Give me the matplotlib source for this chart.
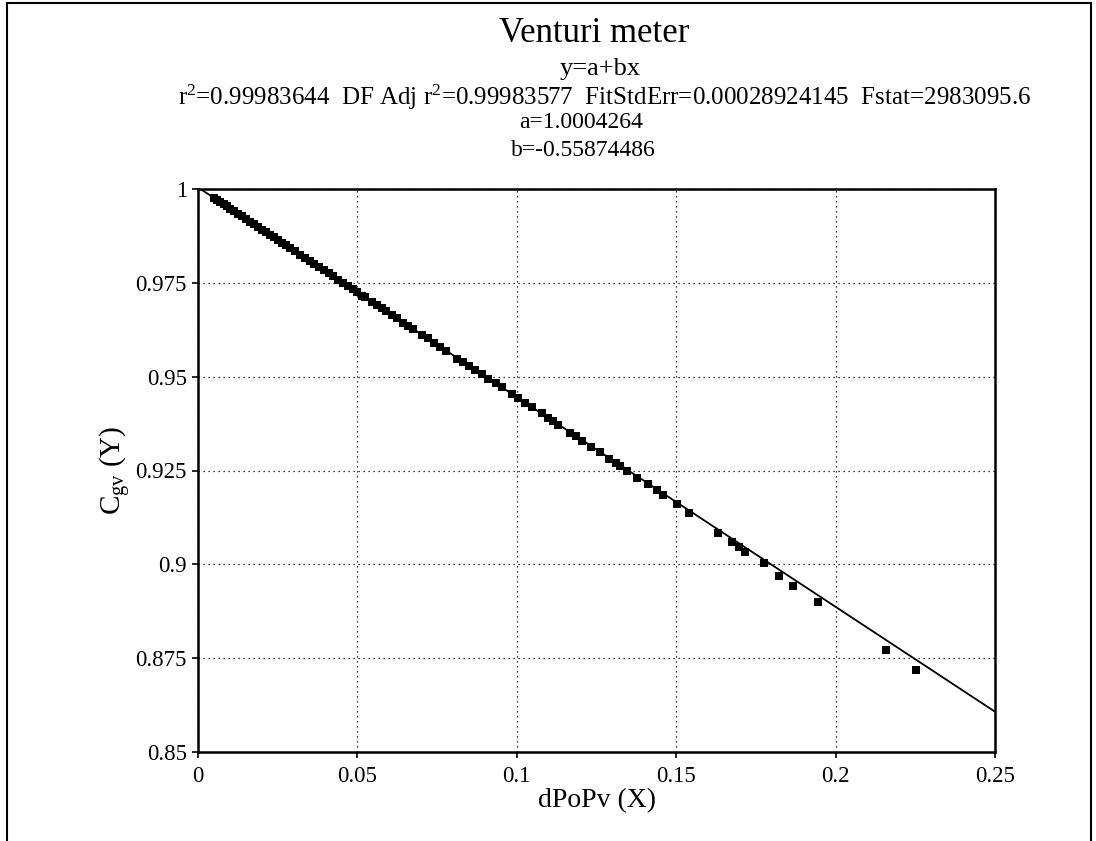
"""Venturi meter calibration fit, TableCurve style"""
import matplotlib
matplotlib.use('Agg')
import matplotlib.pyplot as plt
from matplotlib.patches import Rectangle

plt.rcParams['font.family'] = ['Liberation Serif', 'DejaVu Serif']
plt.rcParams['mathtext.fontset'] = 'custom'
plt.rcParams['mathtext.rm'] = 'Liberation Serif'
plt.rcParams['mathtext.it'] = 'Liberation Serif:italic'

dpopv = [0.0050, 0.0060, 0.0070, 0.0080, 0.0090, 0.0100, 0.0112, 0.0125, 0.0138, 0.0150,
         0.0163, 0.0175, 0.0188, 0.0200, 0.0213, 0.0225, 0.0238, 0.0250, 0.0263, 0.0275,
         0.0290, 0.0305, 0.0320, 0.0335, 0.0350, 0.0365, 0.0380, 0.0395, 0.0410, 0.0425,
         0.0440, 0.0455, 0.0470, 0.0485, 0.0500, 0.0515,
         0.0524, 0.0545, 0.0560, 0.0576, 0.0590, 0.0608, 0.0625, 0.0644, 0.0660, 0.0675,
         0.0702, 0.0720, 0.0740, 0.0760, 0.0778, 0.0813, 0.0832, 0.0850, 0.0869, 0.0890,
         0.0911, 0.0935, 0.0953, 0.0984, 0.1005, 0.1026, 0.1047, 0.1078, 0.1099, 0.1115,
         0.1130, 0.1167, 0.1185, 0.1204, 0.1232, 0.1260, 0.1290, 0.1310, 0.1324, 0.1345,
         0.1376, 0.1410, 0.1439, 0.1460, 0.1502, 0.1541, 0.1632, 0.1674, 0.1698, 0.1717,
         0.1775, 0.1823, 0.1867, 0.1944, 0.2157, 0.2251]
cgv = [0.9976, 0.9971, 0.9965, 0.9960, 0.9954, 0.9948, 0.9941, 0.9934, 0.9927, 0.9920,
       0.9913, 0.9906, 0.9899, 0.9892, 0.9885, 0.9878, 0.9871, 0.9864, 0.9857, 0.9850,
       0.9842, 0.9834, 0.9825, 0.9817, 0.9808, 0.9800, 0.9792, 0.9783, 0.9775, 0.9767,
       0.9758, 0.9750, 0.9741, 0.9733, 0.9725, 0.9716,
       0.9712, 0.9700, 0.9691, 0.9682, 0.9675, 0.9664, 0.9655, 0.9644, 0.9636, 0.9626,
       0.9611, 0.9602, 0.9591, 0.9580, 0.9569, 0.9547, 0.9539, 0.9529, 0.9518, 0.9507,
       0.9494, 0.9482, 0.9472, 0.9455, 0.9443, 0.9431, 0.9419, 0.9402, 0.9390, 0.9381,
       0.9370, 0.9349, 0.9342, 0.9329, 0.9313, 0.9299, 0.9280, 0.9271, 0.9261, 0.9249,
       0.9231, 0.9214, 0.9197, 0.9184, 0.9161, 0.9136, 0.9083, 0.9060, 0.9047, 0.9034,
       0.9003, 0.8970, 0.8942, 0.8900, 0.8772, 0.8718]

# fitted line y = a + b x, endpoints over the plotted range
fit_x = [0.0, 0.25]
fit_y = [1.0004264, 0.8607402]

title_lines = ['Venturi meter', 'y=a+bx',
               'r$^2$=0.99983644  DF Adj r$^2$=0.99983577  FitStdErr=0.00028924145  Fstat=2983095.6',
               'a=1.0004264', 'b=-0.55874486']

fig = plt.figure(figsize=(10.96, 8.41), dpi=100)
ax = fig.add_axes([198 / 1096, 1 - 752 / 841, 797 / 1096, 563 / 841])

ax.plot(fit_x, fit_y, color='black', lw=1.3, zorder=3)
ax.plot(dpopv, cgv, 's', color='black', ms=6, mew=0, zorder=4)

ax.set_xlim(0, 0.25)
ax.set_ylim(0.85, 1.0)
ax.set_xticks([0, 0.05, 0.1, 0.15, 0.2, 0.25])
ax.set_xticklabels(['0', '0.05', '0.1', '0.15', '0.2', '0.25'])
ax.set_yticks([0.85, 0.875, 0.9, 0.925, 0.95, 0.975, 1.0])
ax.set_yticklabels(['0.85', '0.875', '0.9', '0.925', '0.95', '0.975', '1'])
ax.tick_params(direction='out', length=4, width=1.2, labelsize=16.5, colors='black')
ax.tick_params(axis='x', pad=6)
ax.tick_params(axis='y', pad=4)
ax.grid(True, color='black', linestyle=(0, (1, 3)), lw=0.9)
for s in ax.spines.values():
    s.set_linewidth(1.8)

ax.set_xlabel('dPoPv (X)', fontsize=20, labelpad=1)
ax.set_ylabel('C$_{\\mathrm{gv}}$ (Y)', fontsize=21, labelpad=2)

sizes = [25, 19, 18, 17, 17]
xs = [0.542, 0.548, 0.552, 0.53, 0.532]
ys = [1 - 33 / 841, 1 - 69 / 841, 1 - 97 / 841, 1 - 123 / 841, 1 - 150 / 841]
for txt, sz, x, y in zip(title_lines, sizes, xs, ys):
    fig.text(x, y, txt, fontsize=sz, ha='center', va='center')

# frame around the whole drawing (open at the bottom)
fig.patches.append(Rectangle((7 / 1096, -0.05), 1084 / 1096, 1.05 - 3 / 841,
                             transform=fig.transFigure, fill=False,
                             edgecolor='black', lw=1.5))

fig.savefig('out.png', dpi=100)
